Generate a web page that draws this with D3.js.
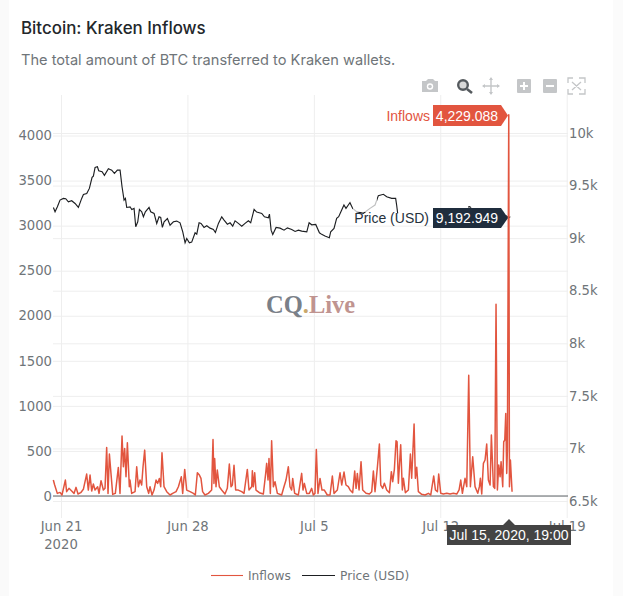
<!DOCTYPE html>
<html><head><meta charset="utf-8">
<script src="https://cdn.jsdelivr.net/npm/d3@7"></script>
<style>html,body{margin:0;padding:0;background:#fff}svg{display:block}</style>
</head><body><svg id="c" width="623" height="596"></svg>
<script>
const titleText = "Bitcoin: Kraken Inflows";
const subtitleText = "The total amount of BTC transferred to Kraken wallets.";
const seriesNames = ["Inflows", "Price (USD)"];
const startDate = "2020-06-21T00:00:00Z";
const hoverDate = "Jul 15, 2020, 19:00";
const hoverInflow = "4,229.088";
const hoverPrice = "9,192.949";
const leftTicks = [0, 500, 1000, 1500, 2000, 2500, 3000, 3500, 4000];
const rightTicks = [6500, 7000, 7500, 8000, 8500, 9000, 9500, 10000];
const rightTickLabels = ["6.5k", "7k", "7.5k", "8k", "8.5k", "9k", "9.5k", "10k"];
const dateTicks = ["2020-06-21", "2020-06-28", "2020-07-05", "2020-07-12", "2020-07-19"];
const dateTickLabels = ["Jun 21", "Jun 28", "Jul 5", "Jul 12", "Jul 19"];

// hours since Jun 21 00:00 UTC
const inflowHours = [-10.2,-8.4,-4.9,-1.3,1.3,5.8,7.5,10.6,14.2,17.3,20,22.6,26.2,29.7,34.1,36.3,38.6,40.8,43,45.2,48.7,50.5,53.2,56.3,58.5,60.7,62.5,64.3,68.7,72.2,76.2,78.4,81.1,82.9,84.6,86.4,88.2,90.8,91.7,93.9,98.4,100.6,102.8,105,107.2,109,111.2,113.9,116.5,118.3,121,123.6,126.3,128.5,130.7,132.5,134.2,136.9,140.5,144.9,148.4,152.9,156,159.9,161.7,164.4,167,171.5,175.9,178.5,181.2,183.9,
186,188.2,191.3,195.8,200.2,201.1,202,203.3,204.2,206,207.7,210.4,213.5,217.9,221,223.7,225.9,227.7,229.9,232.1,235.6,240.1,243.2,247.6,249.8,253.4,254.3,255.6,257.4,259.1,263.6,268.9,272,273.3,275.1,276.4,278.2,279.9,282.2,284.4,287.5,293.2,296.3,299,302.1,304.3,306.5,307.9,310.5,315.4,319.8,321.6,323.4,326.5,330,333.1,335.3,337.5,339.3,341.5,344.2,346.8,349.9,353.9,357.5,360.6,362.8,367.2,370.8,373,376.1,378.7,381.8,384.1,
387.6,390.3,392.1,393.8,396.1,398.7,400.9,405.4,409.8,412.9,415.1,417.3,420.4,423.1,424.9,427.5,429.7,432.8,436.4,439,440.8,443,445.2,446.6,448.3,451.4,453.6,455,457.6,461.6,464.3,466,469.2,470.9,472.7,474.9,479.3,483.8,488.2,491.3,495.3,497.5,500.2,501.9,504.6,508.1,512.6,517,521.4,525.9,529,531.2,533.4,536.9,539.2,
541.8,544,547.1,550.2,553.8,556,557.3,559.1,561.3,563.5,565.7,567.9,570.2,571.9,574.6,576.4,578.1,579.9,581.7,583.5,584.8,587,588.3,589.7,591,592.3,593.2,595,595.9,597.2,599.4];
const inflowValues = [177,122,29,40,11,177,48,85,55,29,96,22,37,74,243,66,232,55,133,66,103,29,170,66,85,539,29,465,18,29,317,29,665,325,528,214,591,103,177,29,48,325,103,177,122,325,509,103,29,103,11,66,177,140,195,103,480,103,48,11,29,48,103,214,29,295,66,48,29,11,258,232,
195,48,11,29,66,362,628,140,417,103,288,103,66,22,85,354,103,122,340,66,66,48,29,295,66,103,280,103,258,66,37,22,251,362,177,417,29,613,103,159,29,11,103,177,325,103,66,195,29,11,251,66,140,29,29,85,11,29,517,29,195,66,66,11,11,221,29,66,258,122,266,122,103,67,
37,277,85,251,67,381,67,30,22,48,277,48,318,576,122,85,141,67,37,270,159,296,613,602,141,569,67,196,37,67,465,196,798,196,318,48,19,11,30,11,222,67,48,244,30,22,30,22,30,22,67,177,30,196,104,
1341,104,436,104,30,104,196,22,362,399,576,178,122,676,104,85,2127,67,344,214,381,104,602,621,916,251,510,4229.088,104,399,48];

// null marks stretches of the line that are not visible in the picture
const priceHours = [-10.1,-7.9,-4.8,-1.3,3.2,6.3,9.8,14.2,18.7,23.1,27.5,29.8,34.2,37.7,41.3,43,45.3,48.4,50.1,54.6,57.7,63,67.4,71,74.9,78.5,81.1,83.8,85.6,87.3,91.8,94,97.1,99.3,102,104.2,107.3,109.5,112.1,117,119.2,123.7,127.2,130.3,132.5,134.7,137,141.4,144.9,149.4,153.8,158.2,161.8,164.9,167.1,170.6,173.7,178.2,180.4,183.5,186.1,190.1,193.7,198.1,202.5,205.2,209.2,213.6,216.7,221.1,224.7,228.2,231.3,235.7,240.2,244.6,249,252.1,256.6,260.1,266.8,270.3,275.6,277,279.2,281.4,285.8,291.1,296.4,300.9,306.6,311.1,315.5,319.9,326.6,329.7,333.2,338.5,343.4,346.4,350.8,356.6,358.4,362.8,366.3,369,373,376,378.7,381.8,384,387.6,392.9,401.8,410.6,417.3,421.7,428.4,432.8,439.4,444.7,446,447.4,448,
541,543,545,546,590,592,595,597];
const priceValues = [9292,9251,9298,9362,9378,9375,9346,9356,9330,9292,9378,9416,9425,9473,9578,9590,9673,9679,9641,9632,9597,9660,9647,9616,9647,9647,9489,9362,9378,9292,9298,9273,9283,9108,9156,9273,9251,9203,9251,9292,9251,9235,9140,9203,9197,9102,9156,9187,9124,9156,9162,9146,9060,8956,8997,8956,8962,9051,9038,9146,9140,9102,9118,9095,9083,9054,9140,9203,9172,9133,9146,9114,9165,9140,9114,9140,9165,9146,9273,9248,9235,9203,9194,9229,9076,9035,9102,9095,9076,9098,9083,9064,9076,9067,9060,9146,9127,9130,9051,9036,9020,9004,9061,9093,9188,9204,9267,9315,9283,9315,9337,9283,9252,9236,9283,9315,9404,9417,9394,9378,9378,9315,9236,null,
9295,9300,9290,null,9215,9210,9193,9205];

const svg = d3.select("#c");
const W = 623, H = 596;
const plot = {l:53, r:568, t:95, b:518};
const font = "'DejaVu Sans',sans-serif";
const tickCol = "#6f7579", gridCol = "#eeeeee", red = "#e2553f", dark = "#1f2d3d";

const t0 = new Date(startDate);
const hourDate = h => t0.getTime() + h*3600000;
const x = d3.scaleUtc().domain([new Date("2020-06-21T00:00:00Z"), new Date("2020-07-19T00:00:00Z")]).range([61, 566.7]);
const yL = d3.scaleLinear().domain([0,4000]).range([496,135.5]);
const yR = d3.scaleLinear().domain([6500,10000]).range([501,133]);

svg.append("rect").attr("width",W).attr("height",H).attr("fill","#fff");
svg.append("rect").attr("width",9).attr("height",H).attr("fill","#fafafa");
svg.append("rect").attr("x",613).attr("width",10).attr("height",H).attr("fill","#fbfbfb");

svg.append("text").attr("x",21).attr("y",34).attr("font-family","Inter,sans-serif").attr("font-size",16.9).attr("font-weight",500).attr("fill","#23272b").text(titleText);
svg.append("text").attr("x",21).attr("y",65).attr("font-family","Inter,sans-serif").attr("font-size",14.6).attr("fill","#6f7579").text(subtitleText);

function styleAxis(g){
  g.select(".domain").remove();
  g.selectAll("line").attr("stroke",gridCol).attr("stroke-width",1);
  g.selectAll("text").attr("fill",tickCol).attr("font-family",font).attr("font-size",13.2);
}
svg.append("g").attr("transform",`translate(0,${plot.b})`)
  .call(d3.axisBottom(x).tickValues(dateTicks.map(d=>new Date(d+"T00:00:00Z"))).tickSize(-(plot.b-plot.t)).tickPadding(4).tickFormat((d,i)=>dateTickLabels[i]))
  .call(styleAxis);
svg.append("text").attr("x",x(new Date(dateTicks[0]+"T00:00:00Z"))).attr("y",549).attr("text-anchor","middle").attr("fill",tickCol).attr("font-family",font).attr("font-size",13.2).text("2020");
svg.append("g").attr("transform",`translate(${plot.l},0)`)
  .call(d3.axisLeft(yL).tickValues(leftTicks).tickSize(-(plot.r-plot.l)).tickPadding(1).tickFormat(d=>d))
  .call(styleAxis);
svg.append("g").attr("transform",`translate(${plot.r},0)`)
  .call(d3.axisRight(yR).tickValues(rightTicks).tickSize(-(plot.r-plot.l)).tickPadding(1).tickFormat((d,i)=>rightTickLabels[i]))
  .call(styleAxis);
svg.append("line").attr("x1",plot.l).attr("x2",plot.r).attr("y1",yL(0)).attr("y2",yL(0)).attr("stroke","#5f6468").attr("stroke-width",1.2);

// watermark
const wm = svg.append("text").attr("x",266).attr("y",313).attr("font-family","'Liberation Serif',serif").attr("font-size",24.5).attr("font-weight",700);
wm.append("tspan").attr("fill","#7a8088").text("CQ");
wm.append("tspan").attr("fill","#c9a86a").text(".");
wm.append("tspan").attr("fill","#c09490").text("Live");

const inflowData = inflowHours.map((h,i)=>({t:hourDate(h),v:inflowValues[i]}));
const priceData = priceHours.map((h,i)=>({t:hourDate(h),v:priceValues[i]}));
svg.append("path").datum(priceData).attr("fill","none").attr("stroke","#1d1f22").attr("stroke-width",1.15)
  .attr("d",d3.line().defined(d=>d.v!=null).x(d=>x(d.t)).y(d=>yR(d.v)));
svg.append("path").datum(inflowData).attr("fill","none").attr("stroke",red).attr("stroke-width",1.5).attr("stroke-linejoin","round")
  .attr("d",d3.line().x(d=>x(d.t)).y(d=>yL(d.v)));

// hover labels
svg.append("rect").attr("x",353).attr("y",198).attr("width",24).attr("height",14).attr("fill","#fff").attr("opacity",.72);
const hoverFont = "'Liberation Sans',Arial,sans-serif";
svg.append("path").attr("d","M433,105H501L508,115.5L501,126H433Z").attr("fill",red);
svg.append("text").attr("x",430).attr("y",120.5).attr("text-anchor","end").attr("font-family",hoverFont).attr("font-size",14).attr("fill",red).text(seriesNames[0]);
svg.append("text").attr("x",467).attr("y",120.5).attr("text-anchor","middle").attr("font-family",hoverFont).attr("font-size",14).attr("fill","#fff").text(hoverInflow);
svg.append("path").attr("d","M433,208H501L508,218L501,228H433Z").attr("fill",dark);
svg.append("text").attr("x",429).attr("y",223).attr("text-anchor","end").attr("font-family",hoverFont).attr("font-size",14).attr("fill","#27323d").text(seriesNames[1]);
svg.append("text").attr("x",467).attr("y",223).attr("text-anchor","middle").attr("font-family",hoverFont).attr("font-size",14).attr("fill","#fff").text(hoverPrice);
svg.append("path").attr("d","M447,525H503L509,519L515,525H571V545H447Z").attr("fill","#444444");
svg.append("text").attr("x",509).attr("y",540).attr("text-anchor","middle").attr("font-family",hoverFont).attr("font-size",14).attr("fill","#fff").text(hoverDate);

// legend
const lg = svg.append("g");
lg.append("line").attr("x1",211).attr("x2",243).attr("y1",575.5).attr("y2",575.5).attr("stroke",red).attr("stroke-width",1.1);
lg.append("line").attr("x1",302).attr("x2",335).attr("y1",575.5).attr("y2",575.5).attr("stroke","#1d1f22").attr("stroke-width",1.1);
[[248,0],[340,1]].forEach(([px,i])=>lg.append("text").attr("x",px).attr("y",580).attr("font-family",font).attr("font-size",12.2).attr("fill",tickCol).text(seriesNames[i]));

// modebar icons
const mb = svg.append("g"), gc = "#c4c6c8";
mb.append("path").attr("d","M422,81H426L428,79H433L435,81H438V92H422Z").attr("fill",gc);
mb.append("circle").attr("cx",430).attr("cy",86.5).attr("r",3.2).attr("fill","#fff");
mb.append("circle").attr("cx",430).attr("cy",86.5).attr("r",1.8).attr("fill",gc);
mb.append("circle").attr("cx",463).attr("cy",85).attr("r",4.8).attr("fill","#d8d8d8").attr("stroke","#555a5e").attr("stroke-width",2.4);
mb.append("line").attr("x1",467).attr("y1",89).attr("x2",472).attr("y2",93).attr("stroke","#555a5e").attr("stroke-width",2.6);
mb.append("path").attr("d","M483,86H499M491,78V94").attr("stroke",gc).attr("stroke-width",1.4);
mb.append("path").attr("d","M489,80L491,77L493,80ZM489,92L491,95L493,92ZM485,84L482,86L485,88ZM497,84L500,86L497,88Z").attr("fill",gc);
mb.append("rect").attr("x",517).attr("y",79).attr("width",14).attr("height",14).attr("rx",1).attr("fill",gc);
mb.append("path").attr("d","M520,86H528M524,82V90").attr("stroke","#fff").attr("stroke-width",2);
mb.append("rect").attr("x",543).attr("y",79).attr("width",14).attr("height",14).attr("rx",1).attr("fill",gc);
mb.append("path").attr("d","M546,86H554").attr("stroke","#fff").attr("stroke-width",2);
mb.append("path").attr("d","M573,78H568V83M579,78H585V83M573,94H568V89M579,94H585V89M572,82L581,90M581,82L572,90").attr("fill","none").attr("stroke",gc).attr("stroke-width",1.3);
</script></body></html>
